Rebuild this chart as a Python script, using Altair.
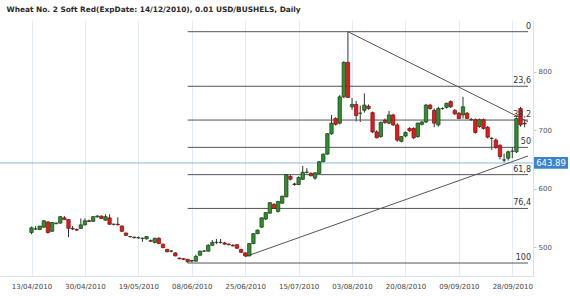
import altair as alt
import pandas as pd

title_text = "Wheat  No. 2 Soft Red(ExpDate: 14/12/2010), 0.01 USD/BUSHELS, Daily"

opens = [525, 531, 530, 534, 543, 527, 540, 541, 550, 547, 532, 530, 532, 538, 545, 544, 552, 553, 546, 550,
         539, 539, 536, 524, 518, 517, 516, 515, 514, 511, 508, 515, 505, 496, 493, 490, 481, 480, 479, 476,
         476, 486, 493, 493, 503, 508, 508, 507, 505, 503, 504, 496, 490, 485, 506, 523, 534, 548, 558, 573,
         561, 575, 586, 621, 608, 607, 616, 628, 626, 618, 626, 646, 659, 694, 720, 712, 757, 816, 740, 744,
         729, 734, 741, 730, 697, 689, 717, 712, 726, 709, 681, 690, 703, 703, 689, 710, 714, 743, 734, 709,
         737, 739, 749, 734, 729, 726, 729, 718, 718, 706, 718, 705, 686, 683, 674, 649, 652, 664, 663, 737,
         712]
highs = [535, 536, 536, 546, 544, 543, 542, 553, 553, 548, 536, 532, 549, 549, 547, 553, 555, 554, 556, 556,
         540, 551, 537, 525, 519, 518, 518, 516, 519, 513, 516, 517, 506, 497, 495, 491, 482, 481, 480, 478,
         487, 494, 495, 505, 512, 514, 514, 509, 506, 505, 505, 497, 491, 507, 524, 530, 551, 560, 577, 575,
         579, 588, 625, 623, 610, 621, 639, 635, 628, 628, 647, 660, 695, 726, 722, 760, 818, 868.5, 755, 750,
         742, 763, 744, 732, 700, 715, 720, 733, 728, 712, 690, 698, 705, 705, 713, 716, 745, 745, 737, 740,
         739, 747, 751, 736, 731, 757, 731, 721, 720, 720, 720, 707, 688, 686, 676, 660, 665, 671, 722, 740,
         718]
lows = [522, 529, 529, 533, 523, 526, 539, 540, 547, 517, 529, 528, 531, 537, 543, 543, 550, 549, 545, 538,
        537, 537, 526, 519, 516, 515, 514, 509, 513, 509, 506, 505, 498, 491, 491, 484, 479, 478, 473, 474,
        475, 485, 492, 492, 502, 505, 506, 504, 503, 501, 497, 490, 483.5, 484, 505, 522, 533, 546, 557, 565,
        559, 574, 585, 614, 605, 606, 615, 626, 621, 615, 625, 645, 658, 692, 708, 710, 755, 755, 735, 715,
        714, 730, 735, 695, 686, 687, 711, 710, 707, 680, 679, 688, 697, 685, 687, 708, 712, 735, 705, 706,
        735, 737, 738, 726, 719, 720, 719, 716, 694, 704, 701, 686, 666, 668, 650, 645, 648, 652, 661, 706,
        705]
closes = [533, 531, 536, 545, 525, 542, 541, 552, 547, 532, 531, 529, 538, 545, 544, 552, 553, 549, 552, 539,
          539, 538, 527, 520, 518, 516, 516, 515, 518, 510, 515, 506, 499, 492, 493, 485, 480, 479, 475, 477,
          484, 493, 493, 503, 508, 508, 508, 505, 504, 502, 498, 491, 485, 506, 523, 529, 550, 559, 576, 566,
          578, 587, 624, 616, 607, 619, 628, 628, 622, 627, 646, 659, 694, 712, 710, 757, 816, 756, 744, 725,
          729, 743, 737, 697, 687, 713, 713, 726, 709, 683, 689, 696, 699, 687, 712, 714, 743, 737, 712, 737,
          737, 746, 740, 728, 720, 740, 720, 718, 696, 718, 703, 688, 686, 671, 655, 649, 663, 664, 720, 709,
          711]

tick_index = [0, 13, 26, 39, 52, 65, 78, 91, 104, 117]
tick_labels = ["13/04/2010", "30/04/2010", "19/05/2010", "08/06/2010", "25/06/2010",
               "15/07/2010", "03/08/2010", "20/08/2010", "09/09/2010", "28/09/2010"]

fib_names = ["0", "23,6", "38,2", "50", "61,8", "76,4", "100"]
fib_levels = [868.5, 775.1, 717.3, 670.6, 623.9, 566.1, 472.7]

trend_start_idx = [77, 52]
trend_start_price = [868.5, 483.5]
trend_end_price = [714.5, 655.8]

last_price = 643.89
y_ticks = [500, 550, 600, 650, 700, 750, 800, 850]

X_MIN, X_MAX = -6.45, 120.82
Y_MIN, Y_MAX = 450.5, 888.5

df = pd.DataFrame({"i": list(range(len(opens))), "open": opens, "high": highs,
                   "low": lows, "close": closes})
df["dir"] = ["up" if c >= o else "down" for o, c in zip(opens, closes)]

low_idx = lows.index(min(lows))
fib_df = pd.DataFrame({"name": fib_names, "level": fib_levels})
fib_df["start"] = low_idx
fib_df["end"] = X_MAX

trend_df = pd.DataFrame({"x1": trend_start_idx, "y1": trend_start_price,
                         "x2": [X_MAX, X_MAX], "y2": trend_end_price})
price_df = pd.DataFrame({"p": [last_price], "label": [f"{last_price:.2f}"]})

labels_js = "[" + ",".join(f"'{t}'" for t in tick_labels) + "]"

xscale = alt.Scale(domain=[X_MIN, X_MAX], nice=False, zero=False)
yscale = alt.Scale(domain=[Y_MIN, Y_MAX], nice=False, zero=False)

x_axis = alt.Axis(values=tick_index, labelExpr=f"{labels_js}[round(datum.value/13)]",
                  grid=True, gridColor="#e3ecf6", domainColor="#d3e2f0", ticks=False,
                  labelFont="DejaVu Sans", labelFontSize=7, labelColor="#444",
                  labelPadding=6, title=None, labelFlush=False)
y_axis = alt.Axis(orient="right", values=y_ticks, grid=False, domainColor="#d3e2f0",
                  tickColor="#b8cde3", tickSize=3, labelFont="DejaVu Sans", labelFontSize=7,
                  labelColor="#555", labelPadding=2, title=None)

base = alt.Chart(df)

wicks = base.mark_rule(color="#333", strokeWidth=1).encode(
    x=alt.X("i:Q", scale=xscale, axis=x_axis),
    y=alt.Y("low:Q", scale=yscale, axis=y_axis),
    y2="high:Q",
)

bodies = base.mark_bar(size=3.4, strokeWidth=0.7).encode(
    x=alt.X("i:Q", scale=xscale),
    y=alt.Y("open:Q", scale=yscale),
    y2="close:Q",
    color=alt.Color("dir:N", scale=alt.Scale(domain=["up", "down"], range=["#2f8f2f", "#e8191c"]), legend=None),
    stroke=alt.Stroke("dir:N", scale=alt.Scale(domain=["up", "down"], range=["#163d16", "#6e1010"]), legend=None),
)

price_line = alt.Chart(price_df).mark_rule(color="#8ab6e4", strokeWidth=1).encode(
    y=alt.Y("p:Q", scale=yscale),
    x=alt.value(0),
    x2=alt.value(533),
)

fib_lines = alt.Chart(fib_df).mark_rule(color="#555", strokeWidth=1).encode(
    x=alt.X("start:Q", scale=xscale),
    x2="end:Q",
    y=alt.Y("level:Q", scale=yscale),
)

fib_text = alt.Chart(fib_df).mark_text(align="right", baseline="bottom", dy=-1, fontSize=8,
                                        font="DejaVu Sans", color="#333").encode(
    x=alt.value(531),
    y=alt.Y("level:Q", scale=yscale),
    text="name:N",
)

trend = alt.Chart(trend_df).mark_rule(color="#555", strokeWidth=1).encode(
    x=alt.X("x1:Q", scale=xscale),
    x2="x2:Q",
    y=alt.Y("y1:Q", scale=yscale),
    y2="y2:Q",
)

box = alt.Chart(price_df).transform_calculate(
    lo="datum.p - 10", hi="datum.p + 10"
).mark_rect(color="#3a83d2").encode(
    y=alt.Y("lo:Q", scale=yscale),
    y2="hi:Q",
    x=alt.value(534),
    x2=alt.value(568),
)

box_text = alt.Chart(price_df).mark_text(color="white", fontSize=8.5, font="DejaVu Sans",
                                          align="center", baseline="middle").encode(
    y=alt.Y("p:Q", scale=yscale),
    x=alt.value(551),
    text="label:N",
)

chart = alt.layer(
    wicks, price_line, fib_lines, trend, bodies, fib_text, box, box_text
).properties(
    width=533,
    height=256,
    title=alt.TitleParams(title_text, anchor="start", fontSize=7.4, fontWeight="bold",
                          font="DejaVu Sans", color="#2a2a2a", offset=7, dx=7),
    autosize=alt.AutoSizeParams(type="none"),
    padding={"left": 0, "top": 20, "right": 37, "bottom": 20},
).configure_view(stroke=None)

chart.save("out.html", embed_options={"renderer": "svg", "actions": False})
